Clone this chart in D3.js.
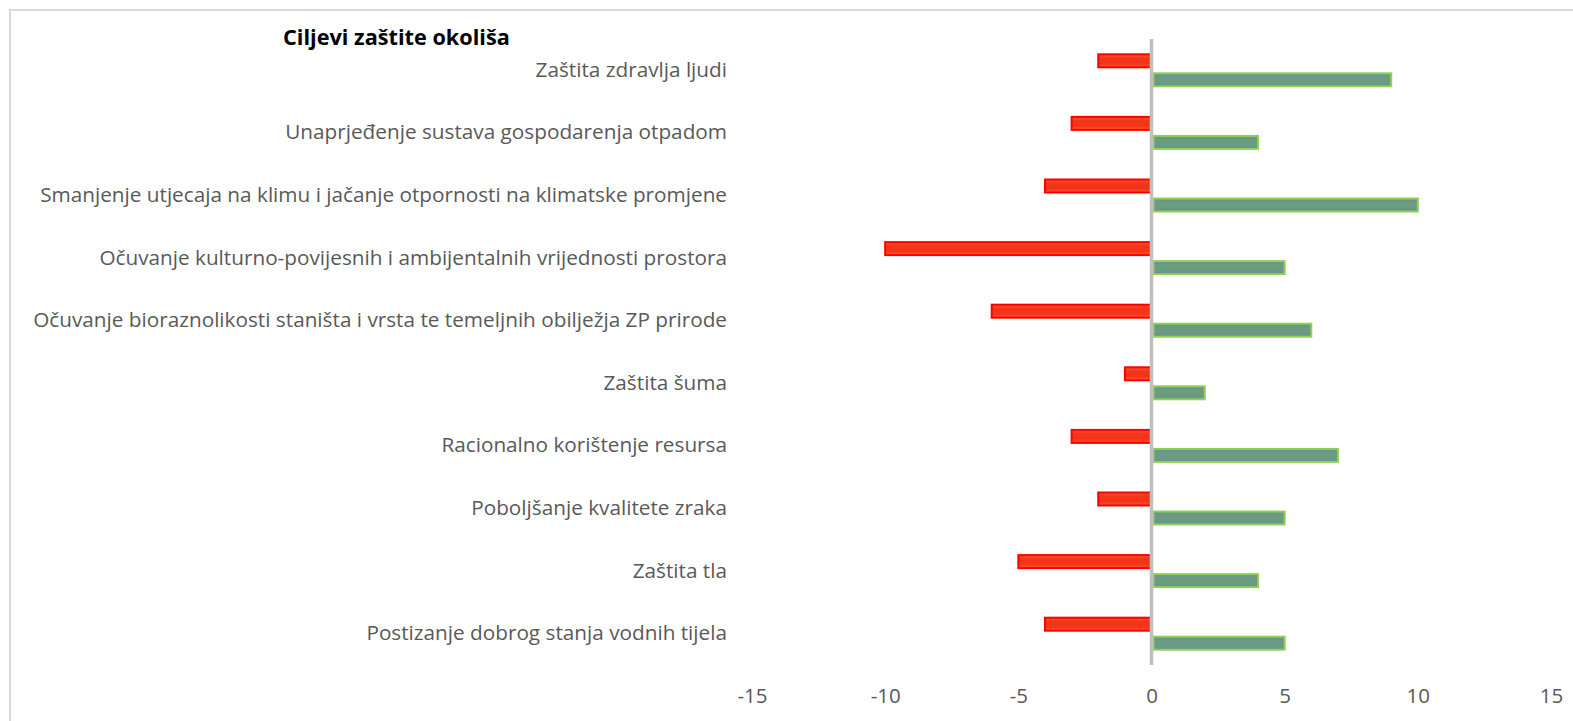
<!DOCTYPE html>
<html>
<head>
<meta charset="utf-8">
<script src="https://cdn.jsdelivr.net/npm/d3@7"></script>
<style>
  html, body { margin: 0; padding: 0; background: #fff; }
  svg { display: block; }
</style>
</head>
<body>
<svg id="chart" width="1573" height="721"></svg>
<script>
// Environmental protection objectives: negative and positive assessments per objective
const categories = [
  "Zaštita zdravlja ljudi",
  "Unaprjeđenje sustava gospodarenja otpadom",
  "Smanjenje utjecaja na klimu i jačanje otpornosti na klimatske promjene",
  "Očuvanje kulturno-povijesnih i ambijentalnih vrijednosti prostora",
  "Očuvanje bioraznolikosti staništa i vrsta te temeljnih obilježja ZP prirode",
  "Zaštita šuma",
  "Racionalno korištenje resursa",
  "Poboljšanje kvalitete zraka",
  "Zaštita tla",
  "Postizanje dobrog stanja vodnih tijela"
];
const negativeValues = [-2, -3, -4, -10, -6, -1, -3, -2, -5, -4];
const positiveValues = [9, 4, 10, 5, 6, 2, 7, 5, 4, 5];
const tickValues = [-15, -10, -5, 0, 5, 10, 15];
const title = "Ciljevi zaštite okoliša";

const svg = d3.select("#chart");
const W = 1573, H = 721;
const FONT = "'Open Sans', 'Noto Sans', sans-serif";

// outer frame
svg.append("rect")
  .attr("x", 10).attr("y", 10)
  .attr("width", W - 10 + 5).attr("height", H)
  .attr("fill", "#fff").attr("stroke", "#d9d9d9").attr("stroke-width", 2);

const x = d3.scaleLinear().domain([-15, 15]).range([752, 1551]);
const y = d3.scaleBand().domain(categories).range([39, 665]);

const defs = svg.append("defs");
const gRed = defs.append("linearGradient").attr("id", "gRed")
  .attr("x1", 0).attr("y1", 0).attr("x2", 0).attr("y2", 1);
gRed.append("stop").attr("offset", "0%").attr("stop-color", "#f45a32");
gRed.append("stop").attr("offset", "30%").attr("stop-color", "#f43419");
gRed.append("stop").attr("offset", "70%").attr("stop-color", "#f43419");
gRed.append("stop").attr("offset", "100%").attr("stop-color", "#f45a32");
const gGreen = defs.append("linearGradient").attr("id", "gGreen")
  .attr("x1", 0).attr("y1", 0).attr("x2", 0).attr("y2", 1);
gGreen.append("stop").attr("offset", "0%").attr("stop-color", "#64909a");
gGreen.append("stop").attr("offset", "35%").attr("stop-color", "#6c9c80");
gGreen.append("stop").attr("offset", "65%").attr("stop-color", "#6c9c80");
gGreen.append("stop").attr("offset", "100%").attr("stop-color", "#64909a");

const barH = 13;
const off = 9.5;

// negative series
svg.append("g").selectAll("rect")
  .data(categories.map((c, i) => ({ c, v: negativeValues[i] })))
  .join("rect")
  .attr("x", d => x(d.v))
  .attr("y", d => y(d.c) + y.bandwidth() / 2 - off - barH / 2)
  .attr("width", d => x(0) - x(d.v))
  .attr("height", barH)
  .attr("fill", "url(#gRed)")
  .attr("stroke", "#ff0000").attr("stroke-width", 2);

// positive series
svg.append("g").selectAll("rect")
  .data(categories.map((c, i) => ({ c, v: positiveValues[i] })))
  .join("rect")
  .attr("x", x(0) + 2)
  .attr("y", d => y(d.c) + y.bandwidth() / 2 + off - barH / 2)
  .attr("width", d => x(d.v) - x(0) - 2)
  .attr("height", barH)
  .attr("fill", "url(#gGreen)")
  .attr("stroke", "#92d050").attr("stroke-width", 2);

// vertical category axis at zero
svg.append("line")
  .attr("x1", x(0)).attr("x2", x(0))
  .attr("y1", 39).attr("y2", 665)
  .attr("stroke", "#bfbfbf").attr("stroke-width", 3.5);

// category labels, sized so the longest one spans the label column
const labels = svg.append("g").selectAll("text")
  .data(categories)
  .join("text")
  .attr("x", 727)
  .attr("y", d => y(d) + y.bandwidth() / 2 + 6.5)
  .attr("text-anchor", "end")
  .attr("font-family", FONT)
  .attr("font-size", 20)
  .attr("fill", "#595959")
  .text(d => d);
const longest = d3.max(labels.nodes(), n => n.getComputedTextLength());
const labelSize = 20 * 694 / longest;
labels.attr("font-size", labelSize);

// value axis
const xAxis = d3.axisBottom(x).tickValues(tickValues).tickSize(0).tickPadding(0)
  .tickFormat(d => String(d));
const ax = svg.append("g").attr("transform", "translate(0,703)").call(xAxis);
ax.select(".domain").remove();
ax.selectAll("text")
  .attr("dy", 0)
  .attr("font-family", FONT)
  .attr("font-size", 20.5)
  .attr("fill", "#595959");

// title
const t = svg.append("text")
  .attr("x", 283).attr("y", 45)
  .attr("font-family", FONT)
  .attr("font-weight", "bold")
  .attr("font-size", 20)
  .attr("fill", "#000")
  .text(title);
t.attr("font-size", 20 * 227 / t.node().getComputedTextLength());
</script>
</body>
</html>
